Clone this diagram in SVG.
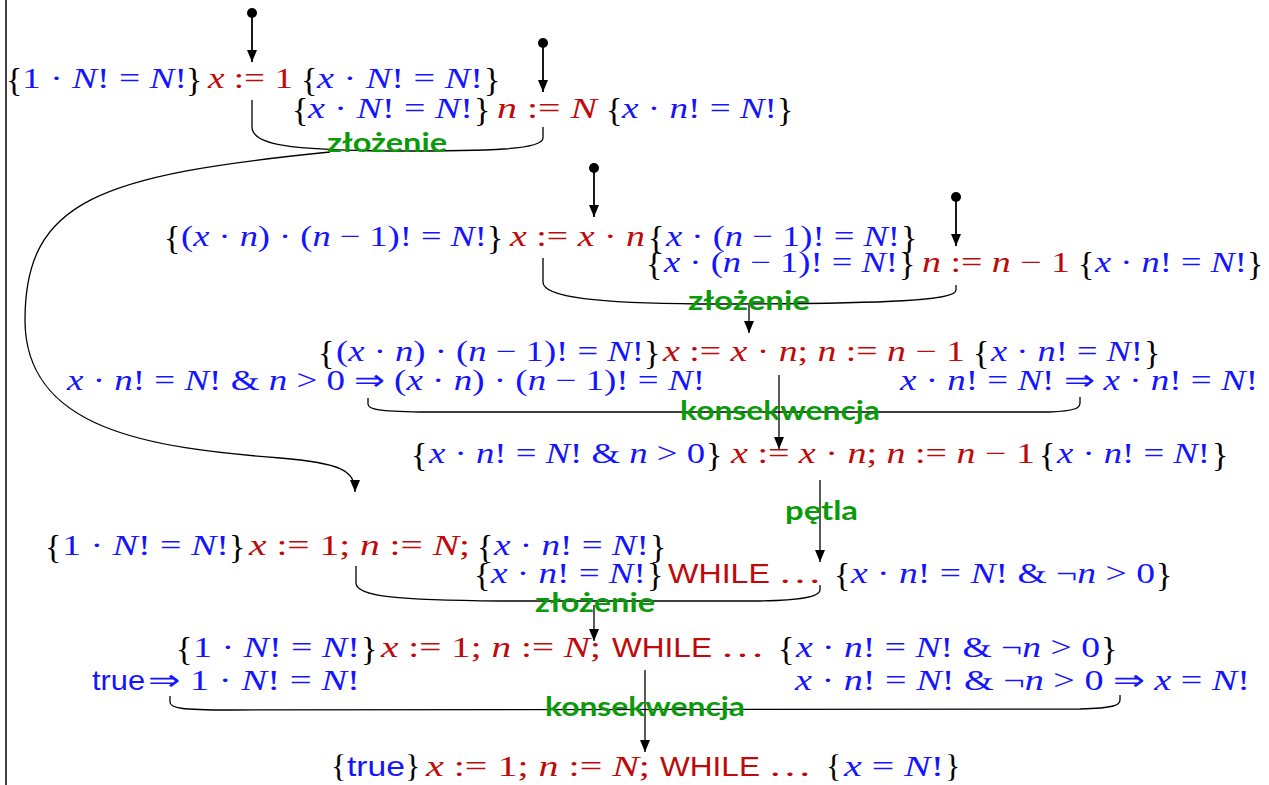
<svg xmlns="http://www.w3.org/2000/svg" width="1269" height="785" viewBox="0 0 1269 785">
<style>
.m{font-family:"Liberation Serif","Times New Roman",serif;font-size:29px}
.br{font-family:"Liberation Serif","Times New Roman",serif;font-size:34px;fill:#000}
.b{fill:#1414ff}
.r{fill:#bf0a0a}
.i{font-style:italic}
.s{font-family:"Liberation Sans",Arial,sans-serif;font-size:28px}
.lbl{font-family:Lato,"Liberation Sans",sans-serif;font-weight:bold;font-size:26px;fill:#0a9a0a}
.c{fill:none;stroke:#000;stroke-width:1.3}
.a{fill:none;stroke:#000;stroke-width:1.8}
</style>
<defs>
<marker id="ah" viewBox="0 0 12 10" refX="12" refY="5" markerWidth="12" markerHeight="10" markerUnits="userSpaceOnUse" orient="auto">
<path d="M0,0 L12,5 L0,10 Z" fill="#000"/>
</marker>
</defs>
<rect width="1269" height="785" fill="#fff"/>
<line x1="6" y1="0" x2="6" y2="785" stroke="#000" stroke-width="1.5"/>

<g id="connectors">
<circle cx="252" cy="13" r="5" fill="#000"/>
<line class="a" x1="252" y1="13" x2="252" y2="62" marker-end="url(#ah)"/>
<circle cx="543" cy="43" r="5" fill="#000"/>
<line class="a" x1="543" y1="43" x2="543" y2="92" marker-end="url(#ah)"/>
<circle cx="594" cy="168" r="5" fill="#000"/>
<line class="a" x1="594" y1="168" x2="594" y2="217" marker-end="url(#ah)"/>
<circle cx="956" cy="197" r="5" fill="#000"/>
<line class="a" x1="956" y1="197" x2="956" y2="246" marker-end="url(#ah)"/>

<path class="c" d="M252,100 L252,127 C252,145 290,150 390,151 C490,151 543,150 543,138 L543,127"/>
<path class="c" d="M330,152 C100,175 25,200 25,320 C25,430 150,448 280,458 C340,463 355,470 355,492" marker-end="url(#ah)"/>
<path class="c" d="M543,258 L543,282 C543,298 600,303 700,304 C900,304 956,300 956,290 L956,285"/>
<line class="c" x1="749" y1="305" x2="749" y2="333" marker-end="url(#ah)"/>
<path class="c" d="M368,398 L368,404 C368,410 380,411 420,412 L1050,412 C1075,411 1080,408 1080,403 L1080,397"/>
<line class="c" x1="779" y1="375" x2="779" y2="449" marker-end="url(#ah)"/>
<line class="c" x1="820" y1="480" x2="820" y2="562" marker-end="url(#ah)"/>
<path class="c" d="M356,566 L356,583 C356,597 400,600 500,601 L760,601 C810,600 820,595 820,590 L820,585"/>
<line class="c" x1="594" y1="605" x2="594" y2="641" marker-end="url(#ah)"/>
<path class="c" d="M170,696 L170,702 C170,708 180,710 230,710 L1080,709 C1115,708 1120,705 1120,700 L1120,695"/>
<line class="c" x1="645" y1="670" x2="645" y2="752" marker-end="url(#ah)"/>
</g>

<g id="row1">
<text class="br" x="6" y="91">{</text>
<text class="m b" x="22" y="88" textLength="165" lengthAdjust="spacingAndGlyphs">1 · <tspan class="i">N</tspan>! = <tspan class="i">N</tspan>!</text>
<text class="br" x="186" y="91">}</text>
<text class="m r" x="208" y="88" textLength="85" lengthAdjust="spacingAndGlyphs"><tspan class="i">x</tspan> := 1</text>
<text class="br" x="301" y="91">{</text>
<text class="m b" x="317" y="88" textLength="166" lengthAdjust="spacingAndGlyphs"><tspan class="i">x</tspan> · <tspan class="i">N</tspan>! = <tspan class="i">N</tspan>!</text>
<text class="br" x="484" y="91">}</text>
</g>

<g id="row2">
<text class="br" x="292" y="121">{</text>
<text class="m b" x="308" y="118" textLength="165" lengthAdjust="spacingAndGlyphs"><tspan class="i">x</tspan> · <tspan class="i">N</tspan>! = <tspan class="i">N</tspan>!</text>
<text class="br" x="474" y="121">}</text>
<text class="m r" x="497" y="118" textLength="100" lengthAdjust="spacingAndGlyphs"><tspan class="i">n</tspan> := <tspan class="i">N</tspan></text>
<text class="br" x="606" y="121">{</text>
<text class="m b" x="622" y="118" textLength="155" lengthAdjust="spacingAndGlyphs"><tspan class="i">x</tspan> · <tspan class="i">n</tspan>! = <tspan class="i">N</tspan>!</text>
<text class="br" x="777" y="121">}</text>
</g>
<text class="lbl" x="327" y="152" textLength="120" lengthAdjust="spacingAndGlyphs">złożenie</text>

<g id="row3">
<text class="br" x="164" y="249">{</text>
<text class="m b" x="181" y="246" textLength="306" lengthAdjust="spacingAndGlyphs">(<tspan class="i">x</tspan> · <tspan class="i">n</tspan>) · (<tspan class="i">n</tspan> − 1)! = <tspan class="i">N</tspan>!</text>
<text class="br" x="487" y="249">}</text>
<text class="m r" x="510" y="246" textLength="135" lengthAdjust="spacingAndGlyphs"><tspan class="i">x</tspan> := <tspan class="i">x</tspan> · <tspan class="i">n</tspan></text>
<text class="br" x="648" y="249">{</text>
<text class="m b" x="666" y="246" textLength="234" lengthAdjust="spacingAndGlyphs"><tspan class="i">x</tspan> · (<tspan class="i">n</tspan> − 1)! = <tspan class="i">N</tspan>!</text>
<text class="br" x="901" y="249">}</text>
</g>

<g id="row4">
<text class="br" x="646" y="275">{</text>
<text class="m b" x="664" y="272" textLength="234" lengthAdjust="spacingAndGlyphs"><tspan class="i">x</tspan> · (<tspan class="i">n</tspan> − 1)! = <tspan class="i">N</tspan>!</text>
<text class="br" x="899" y="275">}</text>
<text class="m r" x="922" y="272" textLength="148" lengthAdjust="spacingAndGlyphs"><tspan class="i">n</tspan> := <tspan class="i">n</tspan> − 1</text>
<text class="br" x="1078" y="275">{</text>
<text class="m b" x="1095" y="272" textLength="152" lengthAdjust="spacingAndGlyphs"><tspan class="i">x</tspan> · <tspan class="i">n</tspan>! = <tspan class="i">N</tspan>!</text>
<text class="br" x="1247" y="275">}</text>
</g>
<text class="lbl" x="688" y="310" textLength="122" lengthAdjust="spacingAndGlyphs">złożenie</text>

<g id="row5">
<text class="br" x="318" y="364">{</text>
<text class="m b" x="336" y="361" textLength="308" lengthAdjust="spacingAndGlyphs">(<tspan class="i">x</tspan> · <tspan class="i">n</tspan>) · (<tspan class="i">n</tspan> − 1)! = <tspan class="i">N</tspan>!</text>
<text class="br" x="644" y="364">}</text>
<text class="m r" x="663" y="361" textLength="302" lengthAdjust="spacingAndGlyphs"><tspan class="i">x</tspan> := <tspan class="i">x</tspan> · <tspan class="i">n</tspan>; <tspan class="i">n</tspan> := <tspan class="i">n</tspan> − 1</text>
<text class="br" x="973" y="364">{</text>
<text class="m b" x="991" y="361" textLength="152" lengthAdjust="spacingAndGlyphs"><tspan class="i">x</tspan> · <tspan class="i">n</tspan>! = <tspan class="i">N</tspan>!</text>
<text class="br" x="1144" y="364">}</text>
</g>

<g id="row6">
<text class="m b" x="67" y="390" textLength="638" lengthAdjust="spacingAndGlyphs"><tspan class="i">x</tspan> · <tspan class="i">n</tspan>! = <tspan class="i">N</tspan>! &amp; <tspan class="i">n</tspan> &gt; 0 ⇒ (<tspan class="i">x</tspan> · <tspan class="i">n</tspan>) · (<tspan class="i">n</tspan> − 1)! = <tspan class="i">N</tspan>!</text>
<text class="m b" x="900" y="390" textLength="358" lengthAdjust="spacingAndGlyphs"><tspan class="i">x</tspan> · <tspan class="i">n</tspan>! = <tspan class="i">N</tspan>! ⇒ <tspan class="i">x</tspan> · <tspan class="i">n</tspan>! = <tspan class="i">N</tspan>!</text>
</g>
<text class="lbl" x="680" y="420" textLength="200" lengthAdjust="spacingAndGlyphs">konsekwencja</text>

<g id="row7">
<text class="br" x="411" y="466">{</text>
<text class="m b" x="429" y="463" textLength="276" lengthAdjust="spacingAndGlyphs"><tspan class="i">x</tspan> · <tspan class="i">n</tspan>! = <tspan class="i">N</tspan>! &amp; <tspan class="i">n</tspan> &gt; 0</text>
<text class="br" x="706" y="466">}</text>
<text class="m r" x="731" y="463" textLength="304" lengthAdjust="spacingAndGlyphs"><tspan class="i">x</tspan> := <tspan class="i">x</tspan> · <tspan class="i">n</tspan>; <tspan class="i">n</tspan> := <tspan class="i">n</tspan> − 1</text>
<text class="br" x="1039" y="466">{</text>
<text class="m b" x="1057" y="463" textLength="153" lengthAdjust="spacingAndGlyphs"><tspan class="i">x</tspan> · <tspan class="i">n</tspan>! = <tspan class="i">N</tspan>!</text>
<text class="br" x="1212" y="466">}</text>
</g>
<text class="lbl" x="785" y="520" textLength="73" lengthAdjust="spacingAndGlyphs">pętla</text>

<g id="row8">
<text class="br" x="45" y="558">{</text>
<text class="m b" x="62" y="555" textLength="167" lengthAdjust="spacingAndGlyphs">1 · <tspan class="i">N</tspan>! = <tspan class="i">N</tspan>!</text>
<text class="br" x="229" y="558">}</text>
<text class="m r" x="249" y="555" textLength="221" lengthAdjust="spacingAndGlyphs"><tspan class="i">x</tspan> := 1; <tspan class="i">n</tspan> := <tspan class="i">N</tspan>;</text>
<text class="br" x="477" y="558">{</text>
<text class="m b" x="494" y="555" textLength="155" lengthAdjust="spacingAndGlyphs"><tspan class="i">x</tspan> · <tspan class="i">n</tspan>! = <tspan class="i">N</tspan>!</text>
<text class="br" x="650" y="558">}</text>
</g>

<g id="row9">
<text class="br" x="474" y="586">{</text>
<text class="m b" x="491" y="583" textLength="155" lengthAdjust="spacingAndGlyphs"><tspan class="i">x</tspan> · <tspan class="i">n</tspan>! = <tspan class="i">N</tspan>!</text>
<text class="br" x="647" y="586">}</text>
<text class="s r" x="668" y="583" textLength="102" lengthAdjust="spacingAndGlyphs">WHILE</text>
<text class="m r" x="778" y="583" textLength="44" lengthAdjust="spacingAndGlyphs">…</text>
<text class="br" x="834" y="586">{</text>
<text class="m b" x="851" y="583" textLength="304" lengthAdjust="spacingAndGlyphs"><tspan class="i">x</tspan> · <tspan class="i">n</tspan>! = <tspan class="i">N</tspan>! &amp; ¬<tspan class="i">n</tspan> &gt; 0</text>
<text class="br" x="1156" y="586">}</text>
</g>
<text class="lbl" x="535" y="612" textLength="120" lengthAdjust="spacingAndGlyphs">złożenie</text>

<g id="row10">
<text class="br" x="176" y="660">{</text>
<text class="m b" x="193" y="657" textLength="167" lengthAdjust="spacingAndGlyphs">1 · <tspan class="i">N</tspan>! = <tspan class="i">N</tspan>!</text>
<text class="br" x="361" y="660">}</text>
<text class="m r" x="381" y="657" textLength="220" lengthAdjust="spacingAndGlyphs"><tspan class="i">x</tspan> := 1; <tspan class="i">n</tspan> := <tspan class="i">N</tspan>;</text>
<text class="s r" x="612" y="657" textLength="100" lengthAdjust="spacingAndGlyphs">WHILE</text>
<text class="m r" x="720" y="657" textLength="45" lengthAdjust="spacingAndGlyphs">…</text>
<text class="br" x="778" y="660">{</text>
<text class="m b" x="796" y="657" textLength="304" lengthAdjust="spacingAndGlyphs"><tspan class="i">x</tspan> · <tspan class="i">n</tspan>! = <tspan class="i">N</tspan>! &amp; ¬<tspan class="i">n</tspan> &gt; 0</text>
<text class="br" x="1101" y="660">}</text>
</g>

<g id="row11">
<text class="s b" x="92" y="690" textLength="53" lengthAdjust="spacingAndGlyphs">true</text>
<text class="m b" x="148" y="690" textLength="212" lengthAdjust="spacingAndGlyphs">⇒ 1 · <tspan class="i">N</tspan>! = <tspan class="i">N</tspan>!</text>
<text class="m b" x="795" y="690" textLength="455" lengthAdjust="spacingAndGlyphs"><tspan class="i">x</tspan> · <tspan class="i">n</tspan>! = <tspan class="i">N</tspan>! &amp; ¬<tspan class="i">n</tspan> &gt; 0 ⇒ <tspan class="i">x</tspan> = <tspan class="i">N</tspan>!</text>
</g>
<text class="lbl" x="545" y="716" textLength="200" lengthAdjust="spacingAndGlyphs">konsekwencja</text>

<g id="row12">
<text class="br" x="331" y="777" style="font-size:32px">{</text>
<text class="s b" x="347" y="776" textLength="58" lengthAdjust="spacingAndGlyphs">true</text>
<text class="br" x="405" y="777" style="font-size:32px">}</text>
<text class="m r" x="426" y="776" textLength="224" lengthAdjust="spacingAndGlyphs"><tspan class="i">x</tspan> := 1; <tspan class="i">n</tspan> := <tspan class="i">N</tspan>;</text>
<text class="s r" x="660" y="776" textLength="100" lengthAdjust="spacingAndGlyphs">WHILE</text>
<text class="m r" x="768" y="776" textLength="44" lengthAdjust="spacingAndGlyphs">…</text>
<text class="br" x="826" y="777" style="font-size:32px">{</text>
<text class="m b" x="844" y="776" textLength="100" lengthAdjust="spacingAndGlyphs"><tspan class="i">x</tspan> = <tspan class="i">N</tspan>!</text>
<text class="br" x="945" y="777" style="font-size:32px">}</text>
</g>
</svg>
